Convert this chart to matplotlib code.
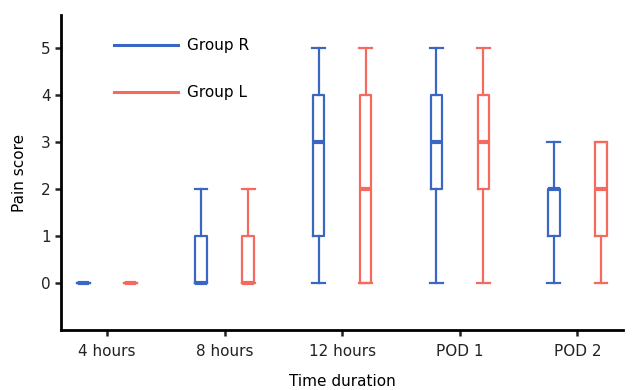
import matplotlib
matplotlib.use("Agg")
import matplotlib.pyplot as plt
from matplotlib.lines import Line2D

categories = ["4 hours", "8 hours", "12 hours", "POD 1", "POD 2"]
# five-number summaries: (min, q1, median, q3, max)
group_r = [(0, 0, 0, 0, 0), (0, 0, 0, 1, 2), (0, 1, 3, 4, 5), (0, 2, 3, 4, 5), (0, 1, 2, 2, 3)]
group_l = [(0, 0, 0, 0, 0), (0, 0, 0, 1, 2), (0, 0, 2, 4, 5), (0, 2, 3, 4, 5), (0, 1, 2, 3, 3)]
series_names = ["Group R", "Group L"]
colors = ["#3a66c4", "#f46a5e"]

fig = plt.figure(figsize=(6.39, 3.9), dpi=100)
ax = fig.add_axes([0.0955, 0.154, 0.88, 0.8075])

def stats(vals):
    return [dict(whislo=v[0], q1=v[1], med=v[2], q3=v[3], whishi=v[4], fliers=[]) for v in vals]

offsets = [-0.2, 0.2]
for data, off, c in zip([group_r, group_l], offsets, colors):
    pos = [i + off for i in range(len(categories))]
    ax.bxp(stats(data), positions=pos, widths=0.095, showfliers=False,
           boxprops=dict(color=c, linewidth=1.6),
           whiskerprops=dict(color=c, linewidth=1.6),
           capprops=dict(color=c, linewidth=1.6),
           medianprops=dict(color=c, linewidth=3.0),
           capwidths=0.11, manage_ticks=False)

ax.set_xlim(-0.39, 4.39)
ax.set_ylim(-1.0, 5.7)
ax.set_yticks([0, 1, 2, 3, 4, 5])
ax.set_xticks(range(len(categories)))
ax.set_xticklabels(categories)
ax.tick_params(axis='both', labelsize=11, width=1.8, length=4, colors='#222222')
ax.tick_params(axis='x', pad=6)
for s in ["top", "right"]:
    ax.spines[s].set_visible(False)
for s in ["left", "bottom"]:
    ax.spines[s].set_linewidth(2)
ax.set_ylabel("Pain score", fontsize=11, labelpad=10)
ax.set_xlabel("Time duration", fontsize=11, labelpad=11)

handles = [Line2D([], [], color=c, linewidth=2.2) for c in colors]
ax.legend(handles, series_names, loc="upper left", bbox_to_anchor=(0.07, 0.97),
          frameon=False, fontsize=11, handlelength=4.2, labelspacing=2.1, handletextpad=0.6)

fig.savefig("out.png", dpi=100)
